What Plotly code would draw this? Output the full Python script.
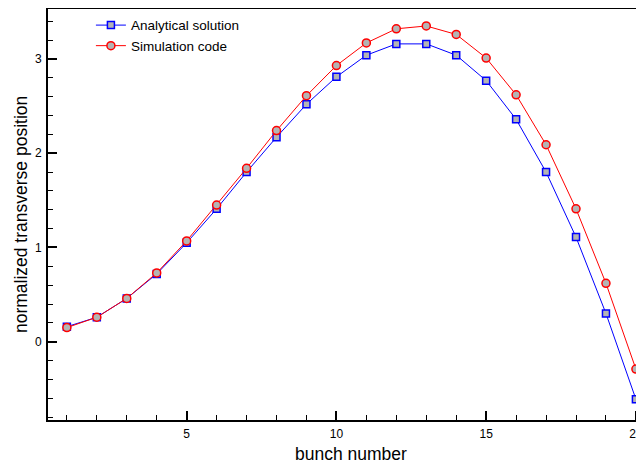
import plotly.graph_objects as go

bunch = list(range(1, 21))
analytical = [0.16, 0.26, 0.46, 0.72, 1.05, 1.41, 1.80, 2.17, 2.52, 2.81,
              3.04, 3.16, 3.16, 3.04, 2.77, 2.36, 1.80, 1.11, 0.30, -0.61]
simulation = [0.15, 0.26, 0.46, 0.73, 1.07, 1.45, 1.84, 2.24, 2.61, 2.93,
              3.17, 3.32, 3.35, 3.26, 3.01, 2.62, 2.09, 1.41, 0.62, -0.29]
x_title = "bunch number"
y_title = "normalized transverse position"

font_family = "Liberation Sans, Arial, sans-serif"

fig = go.Figure()
fig.add_trace(go.Scatter(
    x=bunch, y=analytical, mode="lines+markers", name="Analytical solution",
    line=dict(color="#0000ff", width=1),
    marker=dict(symbol="square", size=7, color="#b4b4b4",
                line=dict(color="#0000ff", width=1.5)),
    cliponaxis=False,
))
fig.add_trace(go.Scatter(
    x=bunch, y=simulation, mode="lines+markers", name="Simulation code",
    line=dict(color="#ff0000", width=1),
    marker=dict(symbol="circle", size=8, color="#b4b4b4",
                line=dict(color="#ff0000", width=1.5)),
    cliponaxis=False,
))

fig.update_layout(
    width=636, height=457,
    margin=dict(l=40, r=0, t=1, b=45, autoexpand=False),
    paper_bgcolor="white", plot_bgcolor="white",
    font=dict(family=font_family, color="black", size=12),
    showlegend=True,
    legend=dict(x=0.072, y=0.998, xanchor="left", yanchor="top",
                bgcolor="rgba(0,0,0,0)", font=dict(size=13.5),
                tracegroupgap=0, itemwidth=30),
    xaxis=dict(
        range=[0.37, 20.27], showgrid=False, zeroline=False, automargin=False,
        showline=True, linecolor="black", linewidth=2, mirror=True,
        ticks="inside", ticklen=9, tickwidth=2, tickcolor="black",
        tickvals=[5, 10, 15, 20], ticklabelstandoff=2,
        minor=dict(ticks="inside", ticklen=5, tickwidth=1, tickcolor="black", dtick=1, tick0=0),
        tickfont=dict(size=12),
    ),
    yaxis=dict(
        range=[-0.83, 3.53], showgrid=False, zeroline=False, automargin=False,
        showline=True, linecolor="black", linewidth=2,
        ticks="inside", ticklen=9, tickwidth=2, tickcolor="black",
        tickvals=[0, 1, 2, 3], ticklabelstandoff=2,
        minor=dict(ticks="inside", ticklen=5, tickwidth=1, tickcolor="black", dtick=0.2, tick0=0),
        tickfont=dict(size=12),
    ),
    annotations=[
        dict(text=x_title, xref="paper", yref="paper", x=0.508, y=-0.082,
             xanchor="center", yanchor="middle", showarrow=False,
             font=dict(size=17.5)),
        dict(text=y_title, xref="paper", yref="paper", x=-0.046, y=0.5,
             xanchor="center", yanchor="middle", showarrow=False, textangle=-90,
             font=dict(size=17.5)),
    ],
)

fig.write_html("out.html")
